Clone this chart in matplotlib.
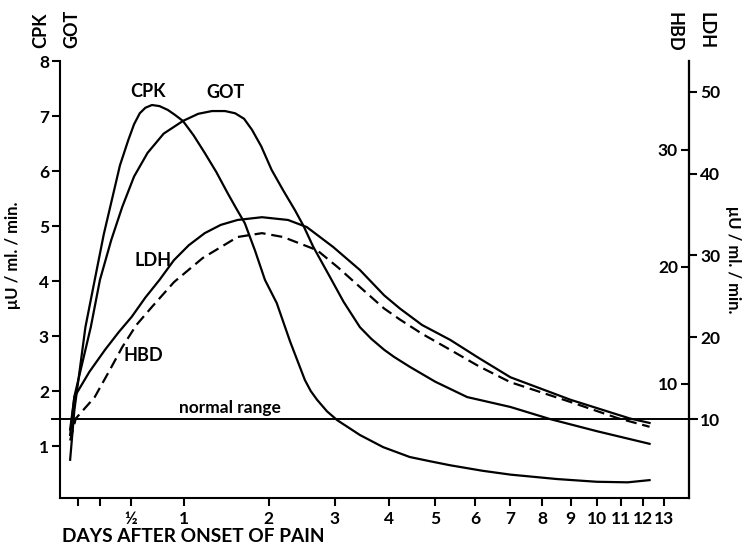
import numpy as np
import matplotlib.pyplot as plt

# values (left scale, muU/ml/min), days after onset of pain
cpk_days = [0.03, 0.06, 0.14, 0.21, 0.28, 0.35, 0.41, 0.48, 0.53, 0.58, 0.63, 0.69,
            0.76, 0.84, 0.91, 0.99, 1.1, 1.22, 1.35, 1.48, 1.58, 1.69, 1.82, 1.95,
            2.11, 2.3, 2.52, 2.61, 2.71, 2.87, 3.04, 3.44, 3.88, 4.43, 4.9, 5.36,
            6.2, 7.0, 8.5, 10.0, 11.3, 12.3]
cpk_vals = [0.75, 1.65, 3.16, 4.02, 4.85, 5.53, 6.1, 6.56, 6.85, 7.05, 7.15, 7.2,
            7.18, 7.11, 7.02, 6.91, 6.65, 6.33, 5.98, 5.6, 5.33, 5.05, 4.55, 4.02,
            3.6, 2.9, 2.2, 2.0, 1.84, 1.63, 1.47, 1.2, 0.98, 0.8, 0.72, 0.65,
            0.55, 0.48, 0.40, 0.35, 0.34, 0.38]

got_days = [0.03, 0.06, 0.18, 0.25, 0.34, 0.43, 0.53, 0.65, 0.8, 0.99, 1.15, 1.3,
            1.45, 1.57, 1.68, 1.78, 1.9, 2.04, 2.2, 2.37, 2.5, 2.65, 2.92, 3.15,
            3.44, 3.65, 3.9, 4.1, 4.43, 5.0, 5.79, 7.0, 8.27, 10.0, 12.3]
got_vals = [1.2, 1.9, 3.16, 4.02, 4.75, 5.35, 5.9, 6.33, 6.68, 6.91, 7.04, 7.09,
            7.09, 7.05, 6.95, 6.75, 6.45, 6.02, 5.65, 5.29, 5.0, 4.62, 4.07, 3.62,
            3.16, 2.95, 2.75, 2.62, 2.44, 2.17, 1.89, 1.71, 1.49, 1.27, 1.04]

ldh_days = [0.03, 0.06, 0.17, 0.29, 0.4, 0.51, 0.63, 0.76, 0.9, 1.05, 1.22, 1.4,
            1.6, 1.91, 2.27, 2.55, 2.97, 3.44, 3.9, 4.22, 4.7, 5.36, 6.1, 7.0,
            9.0, 11.4, 12.3]
ldh_vals = [1.3, 1.89, 2.35, 2.75, 3.07, 3.35, 3.7, 4.02, 4.38, 4.65, 4.87, 5.02,
            5.11, 5.16, 5.11, 4.98, 4.62, 4.2, 3.74, 3.5, 3.2, 2.93, 2.6, 2.25,
            1.84, 1.5, 1.42]

hbd_days = [0.03, 0.07, 0.21, 0.32, 0.43, 0.55, 0.69, 0.9, 1.2, 1.6, 1.91, 2.2,
            2.71, 3.05, 3.44, 3.9, 4.22, 4.7, 5.36, 6.1, 7.0, 9.0, 10.84, 12.3]
hbd_vals = [1.1, 1.5, 1.89, 2.35, 2.8, 3.2, 3.53, 3.98, 4.42, 4.8, 4.87, 4.8,
            4.56, 4.25, 3.89, 3.5, 3.3, 3.04, 2.75, 2.45, 2.16, 1.8, 1.51, 1.35]

normal = 1.5

x_ticks = [1/12, 1/4, 1/2, 1, 2, 3, 4, 5, 6, 7, 8, 9, 10, 11, 12, 13]
x_labels = ['', '', '½', '1', '2', '3', '4', '5', '6', '7', '8', '9', '10', '11', '12', '13']
left_ticks = [1, 2, 3, 4, 5, 6, 7, 8]
ldh_ticks = [10, 20, 30, 40, 50]
hbd_ticks = [10, 20, 30]

LDH_K = 6.72
HBD_K = 4.7
OFF = 2.1

plt.rcParams['font.family'] = ['Lato', 'DejaVu Sans']
plt.rcParams['font.weight'] = 'bold'

fig = plt.figure(figsize=(7.44, 5.45), dpi=100)
ax = fig.add_axes([60/744, 47/545, 629/744, 437/545])

ax.set_xscale('function', functions=(lambda x: np.log(np.asarray(x) + OFF),
                                     lambda y: np.exp(y) - OFF))

lw = 1.6
ax.plot(cpk_days, cpk_vals, color='black', lw=lw)
ax.plot(got_days, got_vals, color='black', lw=lw)
ax.plot(ldh_days, ldh_vals, color='black', lw=lw)
ax.plot(hbd_days, hbd_vals, color='black', lw=lw, dashes=(5, 2.6))
ax.axhline(normal, xmin=-0.013, xmax=1.013, color='black', lw=1.4, clip_on=False)

ax.set_xlim(-0.04, 14.3)
ax.set_ylim(0.055, 8)

ax.spines['top'].set_visible(False)
for s in ['left', 'right', 'bottom']:
    ax.spines[s].set_linewidth(1.5)

ax.set_xticks(x_ticks)
ax.set_xticklabels(x_labels)
ax.xaxis.set_minor_locator(plt.NullLocator())
ax.set_yticks(left_ticks)
ax.tick_params(axis='both', direction='out', length=6, width=1.5, labelsize=12.5)
ax.tick_params(axis='x', pad=3)
ax.tick_params(axis='y', pad=2)

# right-hand scales
ldh_ax = ax.secondary_yaxis('right', functions=(lambda v: v * LDH_K, lambda l: l / LDH_K))
ldh_ax.set_yticks(ldh_ticks)
ldh_ax.tick_params(direction='out', length=6, width=1.5, labelsize=12.5, pad=2)
ldh_ax.spines['right'].set_linewidth(1.5)

hbd_ax = ax.secondary_yaxis(1.0, functions=(lambda v: v * HBD_K, lambda h: h / HBD_K))
hbd_ax.set_alignment('left')
hbd_ax.set_yticks(hbd_ticks)
hbd_ax.tick_params(direction='out', length=6, width=1.5, labelsize=12.5, pad=2)
hbd_ax.spines['left'].set_linewidth(1.5)

# curve labels
ax.text(0.653, 7.44, 'CPK', fontsize=13, ha='center', va='center')
ax.text(1.45, 7.42, 'GOT', fontsize=13, ha='center', va='center')
ax.text(0.70, 4.38, 'LDH', fontsize=13, ha='center', va='center')
ax.text(0.607, 2.64, 'HBD', fontsize=13, ha='center', va='center')
ax.text(1.51, 1.69, 'normal range', fontsize=12.5, ha='center', va='center')

# scale titles
fig.text(41/744, 1 - 48/545, 'CPK', rotation=90, fontsize=13, ha='center', va='bottom')
fig.text(72/744, 1 - 48/545, 'GOT', rotation=90, fontsize=13, ha='center', va='bottom')
fig.text(674/744, 1 - 12/545, 'HBD', rotation=270, fontsize=13, ha='center', va='top')
fig.text(706/744, 1 - 12/545, 'LDH', rotation=270, fontsize=13, ha='center', va='top')

fig.text(13/744, 1 - 255/545, 'μU / ml. / min.', rotation=90, fontsize=12,
         ha='center', va='center')
fig.text(733/744, 1 - 260/545, 'μU / ml. / min.', rotation=270, fontsize=12,
         ha='center', va='center')
fig.text(62/744, 9/545, 'DAYS AFTER ONSET OF PAIN', fontsize=13.8, ha='left', va='center')

fig.savefig('out.png', dpi=100)
